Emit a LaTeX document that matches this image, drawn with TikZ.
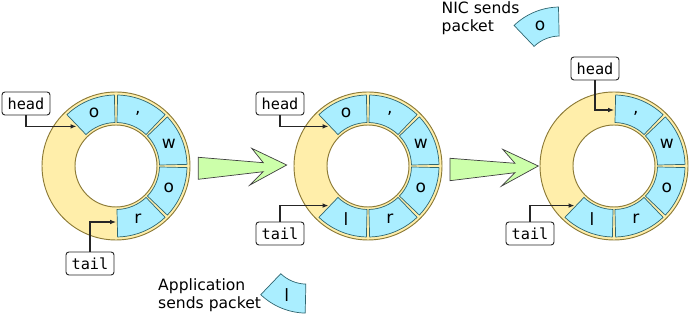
\documentclass[tikz,border=0pt]{standalone}
\usepackage{fontspec}
\setmainfont{DejaVu Sans}
\setmonofont{DejaVu Sans Mono}
\usetikzlibrary{arrows.meta}

\definecolor{ringfill}{HTML}{FFEEAA}
\definecolor{ringline}{HTML}{8C7A36}
\definecolor{cellfill}{HTML}{AAEEFF}
\definecolor{cellline}{HTML}{2F6670}
\definecolor{stepfill}{HTML}{CCFFAA}

\tikzset{
  ringband/.style={fill=ringfill,draw=ringline,line width=0.8pt,even odd rule},
  cellbox/.style={fill=cellfill,draw=cellline,line width=0.6pt},
  celltext/.style={font=\fontsize{14.5}{17}\selectfont,inner sep=0pt},
  labelbox/.style={draw=black!85,fill=white,rounded corners=2.5pt,line width=0.8pt,
    font=\ttfamily\fontsize{13}{15}\selectfont,minimum width=1.44cm,minimum height=0.69cm,inner sep=0pt},
  ptr/.style={draw=black!85,line width=0.9pt,-{Latex[length=5pt,width=4pt]}},
  bigarrow/.style={fill=stepfill,draw=black!75,line width=0.6pt,line join=miter},
  caption/.style={font=\fontsize{13.3}{15.5}\selectfont,align=left,inner sep=0pt,anchor=north west}
}

% one slot of the ring: centre, start angle, letter, inner radius, outer radius
\newcommand{\cell}[5]{%
  \draw[cellbox] ([shift={(#2+1.3:#4)}]#1) arc[start angle=#2+1.3,end angle=#2+43.7,radius=#4]
    -- ([shift={(#2+43.7:#5)}]#1) arc[start angle=#2+43.7,end angle=#2+1.3,radius=#5] -- cycle;
  \node[celltext] (#1c#2) at ([shift={(#2+22.5:{(#4+#5)/2})}]#1) {#3};}

\begin{document}
\begin{tikzpicture}[x=0.03cm,y=0.03cm]
\useasboundingbox (0,0) rectangle (690,316);

% ring centres
\coordinate (r1) at (116,150);
\coordinate (r2) at (368,150);
\coordinate (r3) at (614,150);

\foreach \r in {r1,r2,r3}
  \draw[ringband] (\r) circle[radius=74] (\r) circle[radius=41];

% ring 1
\cell{r1}{90}{o}{43.5}{71}
\cell{r1}{45}{,}{43.5}{71}
\cell{r1}{0}{w}{43.5}{71}
\cell{r1}{-45}{o}{43.5}{71}
\cell{r1}{-90}{r}{43.5}{71}

% ring 2
\cell{r2}{90}{o}{43.5}{71}
\cell{r2}{45}{,}{43.5}{71}
\cell{r2}{0}{w}{43.5}{71}
\cell{r2}{-45}{o}{43.5}{71}
\cell{r2}{-90}{r}{43.5}{71}
\cell{r2}{-135}{l}{43.5}{71}

% ring 3
\cell{r3}{45}{,}{43.5}{71}
\cell{r3}{0}{w}{43.5}{71}
\cell{r3}{-45}{o}{43.5}{71}
\cell{r3}{-90}{r}{43.5}{71}
\cell{r3}{-135}{l}{43.5}{71}

% packets in flight
\coordinate (fo) at (560,242.5);
\coordinate (fl) at (306.7,69.4);
\cell{fo}{90}{o}{37.5}{66.5}
\cell{fl}{-135}{l}{37.5}{66.5}

\node[caption] (nic) at (441.5,314.5) {NIC sends\\packet};
\node[caption] (app) at (158,37.6) {Application\\sends packet};

% steps
\draw[bigarrow] (198.3,158.7) -- (263.3,153.3) -- (251.7,167.7) -- (286.7,151)
  -- (250,131) -- (263.3,144.3) -- (198.3,136.7) -- cycle;
\draw[bigarrow] (450,157.7) -- (515,152.7) -- (502.7,166.7) -- (538.3,150)
  -- (501.7,130) -- (515,143.3) -- (450,135.3) -- cycle;

% head and tail pointers
\node[labelbox] (h1) at (26,212.5) {head};
\node[labelbox] (t1) at (90,52.5) {tail};
\node[labelbox] (h2) at (280,212.5) {head};
\node[labelbox] (t2) at (280,82.5) {tail};
\node[labelbox] (h3) at (595,247.5) {head};
\node[labelbox] (t3) at (530,82.5) {tail};

\coordinate (h1e) at ([shift={(135:56)}]r1);
\coordinate (t1e) at ([shift={(-90:56)}]r1);
\coordinate (h2e) at ([shift={(135:56)}]r2);
\coordinate (t2e) at ([shift={(-135:56)}]r2);
\coordinate (h3e) at ([shift={(90:56)}]r3);
\coordinate (t3e) at ([shift={(-135:56)}]r3);

\draw[ptr] (h1.south) |- (h1e);
\draw[ptr] (t1.north) |- (t1e);
\draw[ptr] (h2.south) |- (h2e);
\draw[ptr] (t2.north) |- (t2e);
\draw[ptr] (h3.south) |- (h3e);
\draw[ptr] (t3.north) |- (t3e);
\end{tikzpicture}
\end{document}
